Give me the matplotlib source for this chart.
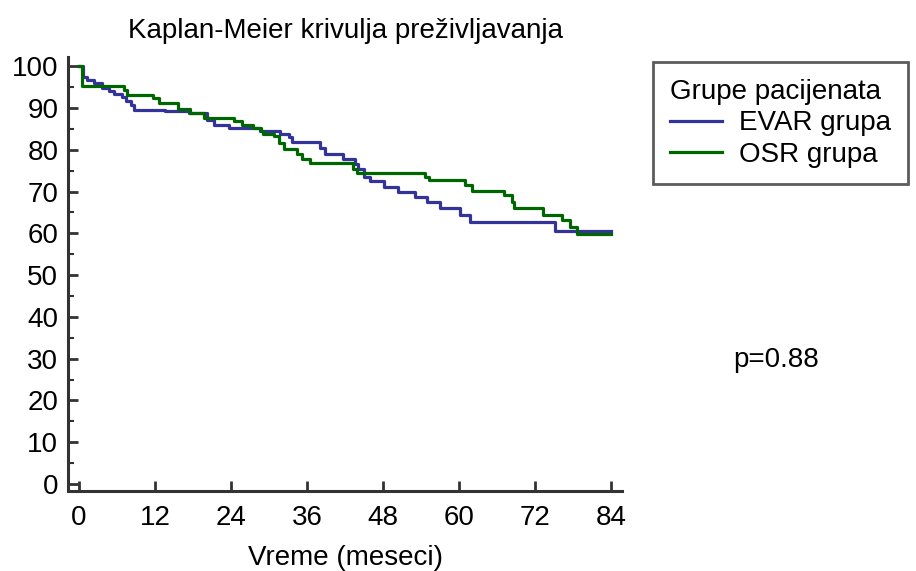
import matplotlib
matplotlib.use('Agg')
import matplotlib.pyplot as plt
from matplotlib.ticker import MultipleLocator

# Kaplan-Meier step data (months, survival %)
evar_t = [0, 0.7, 1.3, 2.4, 3.7, 4.7, 5.5, 6.8, 7.4, 8.2, 8.7, 13.6, 17.3,
          20.2, 21.3, 23.6, 28.5, 31.7, 33.1, 33.6, 38.1, 38.8, 41.7, 43.6,
          44.1, 44.9, 45.9, 48.1, 50.4, 53.1, 54.9, 56.9, 60.2, 61.7, 75.2, 84]
evar_s = [100, 97.5, 96.8, 96.0, 94.9, 94.1, 93.4, 92.6, 91.7, 90.7, 89.6,
          89.3, 88.7, 87.1, 86.0, 85.1, 84.4, 83.7, 83.1, 81.9, 80.5, 79.1,
          77.9, 76.7, 75.5, 73.5, 72.5, 71.1, 69.8, 68.6, 67.4, 66.1, 64.5,
          62.8, 60.6, 60.6]

osr_t = [0, 0.4, 7.1, 7.6, 11.6, 12.6, 15.6, 17.5, 19.7, 24.5, 25.8, 27.4,
         28.7, 29.0, 30.8, 31.6, 32.3, 34.4, 35.2, 36.5, 43.3, 43.8, 54.6,
         55.2, 60.9, 62.0, 67.0, 68.3, 68.6, 73.3, 76.2, 77.5, 78.6, 84]
osr_s = [100, 95.2, 94.4, 93.2, 92.3, 91.2, 89.7, 88.7, 87.6, 86.9, 86.0,
         85.3, 84.4, 83.7, 83.2, 81.7, 80.3, 79.1, 77.9, 76.9, 75.5, 74.4,
         73.5, 72.7, 71.5, 70.2, 69.1, 67.5, 66.1, 64.5, 63.2, 61.6, 59.8,
         59.8]

x_ticks = [0, 12, 24, 36, 48, 60, 72, 84]
y_ticks = [0, 10, 20, 30, 40, 50, 60, 70, 80, 90, 100]

plt.rcParams['font.family'] = ['Liberation Sans', 'DejaVu Sans']
fs = 20

fig = plt.figure(figsize=(9.16, 5.71), dpi=100)
ax = fig.add_axes([68 / 916, 1 - 491 / 571, (622 - 68) / 916, (491 - 57) / 571])

ax.step(evar_t, evar_s, where='post', color='#333399', lw=2.3, label='EVAR grupa')
ax.step(osr_t, osr_s, where='post', color='#006600', lw=2.3, label='OSR grupa')

ax.set_xlim(-1.74, 85.7)
ax.set_ylim(-1.67, 102.2)
ax.set_xticks(x_ticks)
ax.set_yticks(y_ticks)
ax.yaxis.set_minor_locator(MultipleLocator(5))

for side in ('top', 'right'):
    ax.spines[side].set_visible(False)
for side in ('left', 'bottom'):
    ax.spines[side].set_color('#333333')
    ax.spines[side].set_linewidth(2.2)

ax.tick_params(which='major', direction='in', length=7, width=2,
               color='#333333', labelsize=fs, pad=7)
ax.tick_params(axis='x', which='major', pad=10)
ax.tick_params(which='minor', direction='in', length=4, width=1.5,
               color='#333333')

ax.set_xlabel('Vreme (meseci)', fontsize=fs, labelpad=10)
ax.set_title('Kaplan-Meier krivulja preživljavanja', fontsize=fs, pad=14)

leg = fig.legend(loc='upper left', bbox_to_anchor=(653 / 916, 1 - 62 / 571),
                 borderaxespad=0, title='Grupe pacijenata', fontsize=fs,
                 title_fontsize=fs, alignment='left', fancybox=False,
                 handlelength=1.9, handletextpad=0.6, borderpad=0.6,
                 labelspacing=0.2)
leg.get_frame().set_edgecolor('#333333')
leg.get_frame().set_linewidth(2)

fig.text(776 / 916, 1 - 360 / 571, 'p=0.88', fontsize=fs,
         ha='center', va='center')

fig.savefig('out.png', dpi=100)
